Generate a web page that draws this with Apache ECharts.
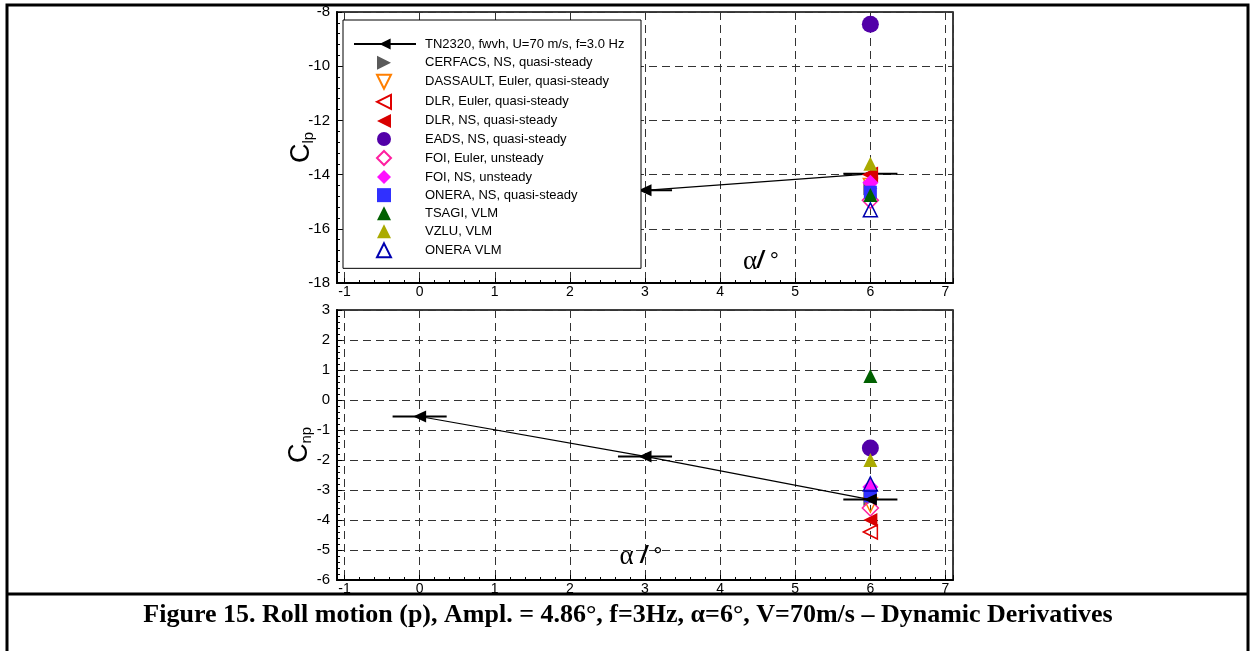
<!DOCTYPE html>
<html><head><meta charset="utf-8">
<script src="https://cdn.jsdelivr.net/npm/echarts@6/dist/echarts.min.js"></script>
<style>html,body{margin:0;padding:0;background:#fff}#c{width:1250px;height:651px}</style>
</head><body><div id="c"></div>
<script>
// ---------- data ----------
const methodNames = ['TN2320, fwvh, U=70 m/s, f=3.0 Hz', 'CERFACS, NS, quasi-steady', 'DASSAULT, Euler, quasi-steady',
  'DLR, Euler, quasi-steady', 'DLR, NS, quasi-steady', 'EADS, NS, quasi-steady', 'FOI, Euler, unsteady',
  'FOI, NS, unsteady', 'ONERA, NS, quasi-steady', 'TSAGI, VLM', 'VZLU, VLM', 'ONERA VLM'];
// experiment (TN2320)
const tnAlphaClp = [3, 6];
const tnClp = [-14.58, -13.97];
const tnAlphaCnp = [0, 3, 6];
const tnCnp = [-0.55, -1.88, -3.32];
const tnAlphaHalfRange = [0.36, 0.36, 0.36];
// computations, all at alpha = 6 deg (order as in methodNames[1..])
const calcAlpha = 6;
const calcClp = [-14.5, -14.4, -14.0, -14.0, -8.45, -14.95, -14.3, -14.65, -14.75, -13.6, -15.3];
const calcCnp = [-3.3, -3.5, -4.4, -4.0, -1.6, -3.6, -2.9, -3.2, 0.8, -2.0, -2.8];
// axes
const xRange = [-1.1, 7.1];
const clpRange = [-18, -8];
const cnpRange = [-6, 3];
const caption = 'Figure 15. Roll motion (p), Ampl. = 4.86°, f=3Hz, α=6°, V=70m/s – Dynamic Derivatives';

// ---------- styles ----------
const TRI_LEFT = 'path://M0,5L10,0L10,10Z';
const TRI_RIGHT = 'path://M10,5L0,0L0,10Z';
const TRI_DOWN = 'path://M0,0L10,0L5,10Z';
const calcStyles = [
  {symbol: 'triangle', rot: -90, icon: TRI_RIGHT, color: '#5a5a5a', open: false, size: 14},
  {symbol: 'triangle', rot: 180, icon: TRI_DOWN, color: '#ff7f00', open: true, size: 14},
  {symbol: 'triangle', rot: 90, icon: TRI_LEFT, color: '#e00000', open: true, size: 14},
  {symbol: 'triangle', rot: 90, icon: TRI_LEFT, color: '#d80000', open: false, size: 14},
  {symbol: 'circle', rot: 0, icon: 'circle', color: '#5200a8', open: false, size: 17},
  {symbol: 'diamond', rot: 0, icon: 'diamond', color: '#ff1fa0', open: true, size: 16},
  {symbol: 'diamond', rot: 0, icon: 'diamond', color: '#ff10ff', open: false, size: 16},
  {symbol: 'rect', rot: 0, icon: 'rect', color: '#3030ff', open: false, size: 13},
  {symbol: 'triangle', rot: 0, icon: 'triangle', color: '#006000', open: false, size: 14},
  {symbol: 'triangle', rot: 0, icon: 'triangle', color: '#aaaa00', open: false, size: 14},
  {symbol: 'triangle', rot: 0, icon: 'triangle', color: '#0000b0', open: true, size: 14}
];
const FONT = 'Liberation Sans, Arial, sans-serif';
const chart = echarts.init(document.getElementById('c'), null, {renderer: 'canvas'});

function xAxisCfg(gi) {
  return {
    gridIndex: gi, type: 'value', min: xRange[0], max: xRange[1], splitNumber: 8, minInterval: 1, maxInterval: 1,
    axisLine: {show: true, onZero: false, lineStyle: {color: '#000', width: 2}},
    axisTick: {show: true, inside: true, length: 5, lineStyle: {color: '#000', width: 1}},
    minorTick: {show: true, splitNumber: 5, length: 3, lineStyle: {color: '#000', width: 1}},
    axisLabel: {show: true, showMinLabel: false, showMaxLabel: false, margin: 2, color: '#000', fontSize: 14, fontFamily: FONT},
    splitLine: {show: true, lineStyle: {color: '#333', width: 1, type: [8, 5]}}
  };
}
function yAxisCfg(gi, range, interval, nameMain, nameSub, gap) {
  return {
    gridIndex: gi, type: 'value', min: range[0], max: range[1], interval: interval,
    name: '{c|' + nameMain + '}{s|' + nameSub + '}', nameLocation: 'middle', nameGap: gap, nameRotate: 90,
    nameMoveOverlap: false,
    nameTextStyle: {rich: {
      c: {fontSize: 27, fontFamily: FONT, color: '#000', lineHeight: 30},
      s: {fontSize: 15, fontFamily: FONT, color: '#000', lineHeight: 15, verticalAlign: 'bottom', padding: [0, 0, 1, 0]}
    }},
    axisLine: {show: true, onZero: false, lineStyle: {color: '#000', width: 2}},
    axisTick: {show: true, inside: true, length: 5, lineStyle: {color: '#000', width: 1}},
    minorTick: {show: true, splitNumber: 5, length: 3, lineStyle: {color: '#000', width: 1}},
    axisLabel: {show: true, margin: 7, color: '#000', fontSize: 15, fontFamily: FONT},
    splitLine: {show: true, lineStyle: {color: '#333', width: 1, type: [8, 5]}}
  };
}

const series = [];
function tnSeries(gi, xs, ys, z) {
  series.push({
    name: methodNames[0], type: 'line', xAxisIndex: gi, yAxisIndex: gi, z: z,
    data: xs.map((x, i) => [x, ys[i]]),
    symbol: 'triangle', symbolRotate: 90, symbolSize: [12, 13], showSymbol: true,
    lineStyle: {color: '#000', width: 1.2}, itemStyle: {color: '#000'}, animation: false
  });
  series.push({
    type: 'custom', xAxisIndex: gi, yAxisIndex: gi, z: z, silent: true, animation: false,
    data: xs.map((x, i) => [x, ys[i], tnAlphaHalfRange[i]]),
    renderItem: function (params, api) {
      const x = api.value(0), y = api.value(1), h = api.value(2);
      const p0 = api.coord([x - h, y]), p1 = api.coord([x + h, y]);
      return {type: 'line', shape: {x1: p0[0], y1: p0[1], x2: p1[0], y2: p1[1]}, style: {stroke: '#000', lineWidth: 2}};
    }
  });
}
tnSeries(0, tnAlphaClp, tnClp, 2);
tnSeries(1, tnAlphaCnp, tnCnp, 4);

calcStyles.forEach((st, i) => {
  [calcClp, calcCnp].forEach((vals, gi) => {
    series.push({
      name: methodNames[i + 1], type: 'scatter', xAxisIndex: gi, yAxisIndex: gi, z: 3,
      data: [[calcAlpha, vals[i]]],
      symbol: st.symbol, symbolRotate: st.rot, symbolSize: st.size, animation: false,
      itemStyle: st.open ? {color: 'rgba(255,255,255,0)', borderColor: st.color, borderWidth: 1.5, opacity: 1}
                         : {color: st.color, opacity: 1}
    });
  });
});

const legendText = {fontSize: 13, fontFamily: FONT, color: '#000', lineHeight: 14};
chart.setOption({
  backgroundColor: '#fff',
  animation: false,
  grid: [
    {left: 337, top: 12, width: 616, height: 271, show: true, borderColor: '#000', borderWidth: 1.5, containLabel: false},
    {left: 337, top: 310, width: 616, height: 270, show: true, borderColor: '#000', borderWidth: 1.5, containLabel: false}
  ],
  xAxis: [xAxisCfg(0), xAxisCfg(1)],
  yAxis: [yAxisCfg(0, clpRange, 2, 'C', 'lp', 20), yAxisCfg(1, cnpRange, 1, 'C', 'np', 22)],
  legend: [
    {
      orient: 'vertical', left: 343, top: 20, padding: [35.73, 32, 10, 33], z: 4,
      itemWidth: 14, itemHeight: 14, itemGap: 4.06,
      backgroundColor: '#fff', borderColor: '#000', borderWidth: 1,
      textStyle: Object.assign({padding: [0, 0, 0, 29]}, legendText),
      data: calcStyles.map((st, i) => ({name: methodNames[i + 1], icon: st.icon})),
      selectedMode: false
    },
    {
      orient: 'vertical', left: 353, top: 37, padding: 0, z: 6,
      itemWidth: 62, itemHeight: 14,
      textStyle: Object.assign({padding: [0, 0, 0, 4]}, legendText),
      data: [methodNames[0]], selectedMode: false
    }
  ],
  series: series,
  graphic: [
    {type: 'rect', z: 100, shape: {x: 7, y: 5, width: 1241, height: 660}, style: {fill: 'none', stroke: '#000', lineWidth: 3}},
    {type: 'line', z: 100, shape: {x1: 7, y1: 594, x2: 1248, y2: 594}, style: {stroke: '#000', lineWidth: 3}},
    {type: 'text', z: 100, x: 628, y: 615, style: {text: caption, fontFamily: 'Liberation Serif, Times New Roman, serif', fontWeight: 'bold', fontSize: 26, fill: '#000', align: 'center', verticalAlign: 'middle'}},
    {type: 'text', z: 100, x: 761, y: 262, style: {
      text: '{a|α}{s|/ }{d|°}', align: 'center', verticalAlign: 'middle',
      rich: {a: {fontFamily: 'Liberation Serif, serif', fontSize: 27, fill: '#000'},
             s: {fontFamily: FONT, fontWeight: 'bold', fontStyle: 'italic', fontSize: 23, fill: '#000'},
             d: {fontFamily: FONT, fontSize: 23, fill: '#000'}}}},
    {type: 'text', z: 100, x: 641, y: 557, style: {
      text: '{a|α }{s|/ }{d|°}', align: 'center', verticalAlign: 'middle',
      rich: {a: {fontFamily: 'Liberation Serif, serif', fontSize: 27, fill: '#000'},
             s: {fontFamily: FONT, fontWeight: 'bold', fontStyle: 'italic', fontSize: 23, fill: '#000'},
             d: {fontFamily: FONT, fontSize: 23, fill: '#000'}}}}
  ]
});
</script></body></html>
